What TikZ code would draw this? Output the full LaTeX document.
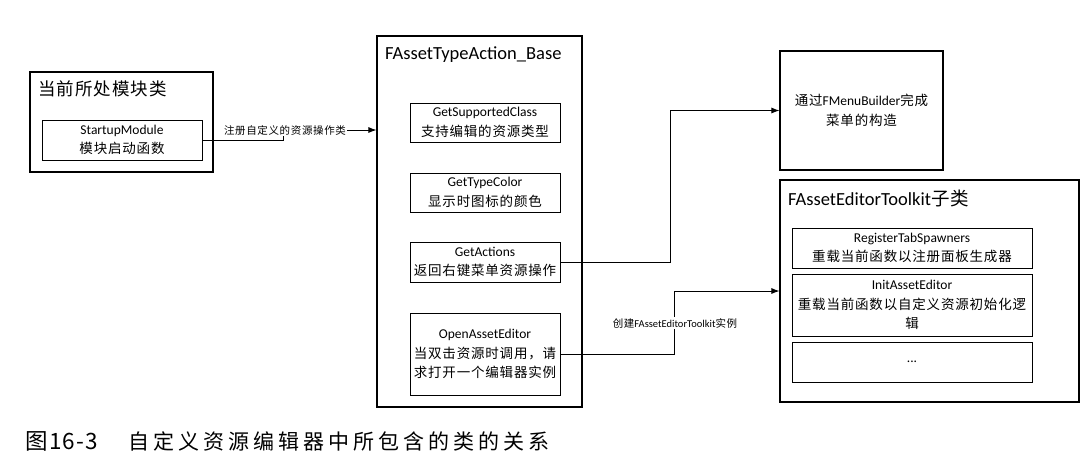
\documentclass[tikz,border=0pt]{standalone}
\usepackage{fontspec}
\setmainfont{Carlito}
\newfontfamily\zh[LetterSpace=6]{Noto Sans CJK SC}
\newfontfamily\zhcap[LetterSpace=19]{Noto Sans CJK SC}
\usetikzlibrary{arrows.meta}

\begin{document}
\begin{tikzpicture}[x=1pt,y=-1pt,
  outer/.style={draw,line width=1.1pt,inner sep=0pt,align=center,font=\fontsize{13.5}{19.5}\selectfont},
  fn/.style={draw,line width=1pt,inner sep=0pt,minimum width=150pt,align=center,font=\fontsize{13.5}{19.5}\selectfont},
  title/.style={anchor=west,inner sep=0pt,font=\fontsize{18.5}{20}\selectfont},
  tag/.style={fill=white,inner sep=1pt,font=\fontsize{10.5}{12}\selectfont},
  link/.style={line width=0.9pt,-{Latex[length=8pt,width=6pt]}}]
\useasboundingbox (0,0) rectangle (1091,464);

% module class on the left
\node[outer,minimum width=183pt,minimum height=100pt] (module) at (121.5,122) {};
\node[title,font=\fontsize{17.5}{20}\selectfont] (moduletitle) at (38,89) {\zh 当前所处模块类};
\node[fn,minimum width=160pt,minimum height=40pt] (startup) at (122,140) {StartupModule\\{\zh 模块启动函数}};

% asset type actions
\node[outer,minimum width=205pt,minimum height=371pt] (base) at (479.5,221.5) {};
\node[title] (basetitle) at (385,55) {FAssetTypeAction\_Base};
\node[fn,minimum height=39pt] (supported) at (485,122.5) {GetSupportedClass\\{\zh 支持编辑的资源类型}};
\node[fn,minimum height=39pt] (typecolor) at (485,192.5) {GetTypeColor\\{\zh 显示时图标的颜色}};
\node[fn,minimum height=40pt] (actions) at (485,262) {GetActions\\{\zh 返回右键菜单资源操作}};
\node[fn,minimum height=82pt] (openeditor) at (485,354) {OpenAssetEditor\\{\zh 当双击资源时调用，请}\\{\zh 求打开一个编辑器实例}};

% right hand side
\node[outer,minimum width=163pt,minimum height=119pt] (menu) at (861.5,110.5) {{\zh 通过}FMenuBuilder{\zh 完成}\\{\zh 菜单的构造}};
\node[outer,minimum width=299pt,minimum height=222pt] (toolkit) at (929.5,291) {};
\node[title] (toolkittitle) at (788,198) {FAssetEditorToolkit{\zh 子类}};
\node[fn,minimum width=240pt,minimum height=40pt] (spawners) at (912,248) {RegisterTabSpawners\\{\zh 重载当前函数以注册面板生成器}};
\node[fn,minimum width=240pt,minimum height=62pt] (initeditor) at (912,305) {InitAssetEditor\\{\zh 重载当前函数以自定义资源初始化逻}\\{\zh 辑}};
\node[fn,minimum width=240pt,minimum height=40pt] (more) at (912,362) {...};

% connectors
\coordinate (regbend) at (283,130);
\draw[link] (startup.east) -| (regbend) -- (regbend -| base.west);
\node[tag] (reglabel) at (285,130) {\zh 注册自定义的资源操作类};

\coordinate (menubend) at (670,110.5);
\draw[link] (actions.east) -| (menubend) -- (menubend -| menu.west);

\coordinate (kitbend) at (674,291);
\draw[link] (openeditor.east) -| (kitbend) -- (kitbend -| toolkit.west);
\node[tag] (kitlabel) at (675,323) {{\zh 创建}FAssetEditorToolkit{\zh 实例}};

\node[anchor=west,inner sep=0pt,font=\fontsize{21}{22}\selectfont] (caption) at (25,441) {{\fontsize{22.5}{22}\zh 图16-3}\hspace{30pt}\zhcap 自定义资源编辑器中所包含的类的关系};

\end{tikzpicture}
\end{document}
